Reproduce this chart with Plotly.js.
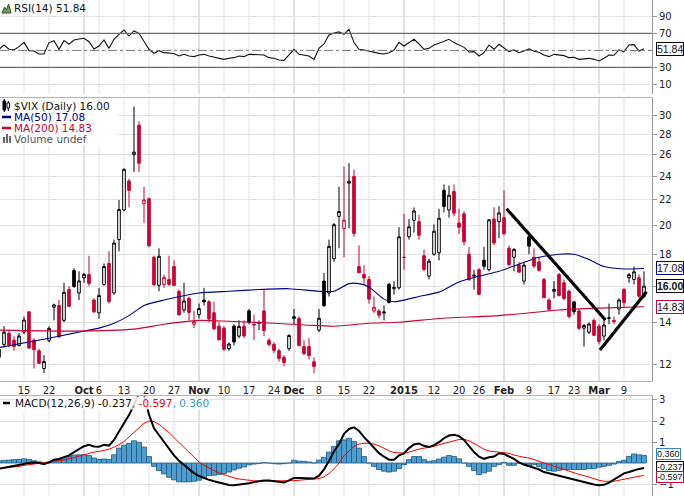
<!DOCTYPE html>
<html><head><meta charset="utf-8">
<script src="https://cdn.plot.ly/plotly-3.0.1.min.js"></script>
<style>html,body{margin:0;padding:0;background:#fff;}#chart{width:684px;height:496px;}</style>
</head><body><div id="chart"></div>
<script>
// ---------- DATA ----------
const dates = [
'2014-09-08','2014-09-09','2014-09-10','2014-09-11','2014-09-12','2014-09-15','2014-09-16','2014-09-17','2014-09-18','2014-09-19',
'2014-09-22','2014-09-23','2014-09-24','2014-09-25','2014-09-26','2014-09-29','2014-09-30','2014-10-01','2014-10-02','2014-10-03',
'2014-10-06','2014-10-07','2014-10-08','2014-10-09','2014-10-10','2014-10-13','2014-10-14','2014-10-15','2014-10-16','2014-10-17',
'2014-10-20','2014-10-21','2014-10-22','2014-10-23','2014-10-24','2014-10-27','2014-10-28','2014-10-29','2014-10-30','2014-10-31',
'2014-11-03','2014-11-04','2014-11-05','2014-11-06','2014-11-07','2014-11-10','2014-11-11','2014-11-12','2014-11-13','2014-11-14',
'2014-11-17','2014-11-18','2014-11-19','2014-11-20','2014-11-21','2014-11-24','2014-11-25','2014-11-26','2014-11-28','2014-12-01',
'2014-12-02','2014-12-03','2014-12-04','2014-12-05','2014-12-08','2014-12-09','2014-12-10','2014-12-11','2014-12-12','2014-12-15',
'2014-12-16','2014-12-17','2014-12-18','2014-12-19','2014-12-22','2014-12-23','2014-12-24','2014-12-26','2014-12-29','2014-12-30',
'2014-12-31','2015-01-02','2015-01-05','2015-01-06','2015-01-07','2015-01-08','2015-01-09','2015-01-12','2015-01-13','2015-01-14',
'2015-01-15','2015-01-16','2015-01-20','2015-01-21','2015-01-22','2015-01-23','2015-01-26','2015-01-27','2015-01-28','2015-01-29',
'2015-01-30','2015-02-02','2015-02-03','2015-02-04','2015-02-05','2015-02-06','2015-02-09','2015-02-10','2015-02-11','2015-02-12',
'2015-02-13','2015-02-17','2015-02-18','2015-02-19','2015-02-20','2015-02-23','2015-02-24','2015-02-25','2015-02-26','2015-02-27',
'2015-03-02','2015-03-03','2015-03-04','2015-03-05','2015-03-06','2015-03-09','2015-03-10','2015-03-11','2015-03-12','2015-03-13'];

const priorClose = 12.09;
const opens = [
12.30,12.90,13.45,13.10,12.85,13.50,14.55,13.10,12.60,11.80,
13.10,14.80,14.90,14.10,15.80,16.95,15.60,16.50,16.70,15.20,
14.50,16.10,17.40,15.60,19.00,21.20,23.60,26.00,29.00,21.70,
22.10,17.80,16.05,16.10,16.40,17.20,15.70,14.65,15.30,13.90,
14.40,15.20,15.10,14.50,13.80,13.70,12.70,13.80,13.30,13.80,
14.60,13.90,13.95,14.60,13.10,12.90,12.60,12.30,12.70,14.20,
14.20,12.80,12.80,12.10,13.60,16.30,15.60,17.70,20.70,19.80,
23.40,24.00,17.20,16.70,16.40,14.60,14.60,14.55,16.10,15.85,
15.90,17.80,19.20,20.40,20.30,17.90,16.60,18.00,18.10,22.80,
21.20,22.70,20.20,20.90,18.00,16.60,17.00,17.60,17.00,20.50,
20.30,20.60,18.40,17.80,17.30,16.30,19.20,17.80,17.50,16.40,
15.20,15.70,16.70,16.20,15.70,15.10,14.60,13.70,13.50,14.10,
13.80,13.30,14.20,14.10,14.70,15.80,16.50,16.40,16.50,15.40];
const highs = [
12.90,13.80,13.55,13.30,13.45,14.30,14.60,13.20,12.70,12.40,
13.80,15.00,15.20,16.20,16.00,17.10,16.90,16.80,17.90,15.30,
15.90,17.40,18.20,19.00,22.00,24.70,23.80,31.06,29.40,23.10,
22.20,17.90,18.40,16.70,17.90,17.60,15.80,16.20,15.40,14.60,
15.00,15.90,15.20,15.10,14.00,13.80,13.00,13.90,14.10,14.10,
14.70,14.40,14.10,15.80,13.20,13.00,12.70,12.40,13.40,14.70,
14.30,13.10,13.20,12.30,14.70,16.80,19.00,20.20,23.10,24.90,
25.20,24.60,18.60,17.30,16.60,15.40,14.70,14.90,16.20,16.30,
19.90,20.90,20.50,21.40,20.80,18.30,17.70,20.10,21.30,23.30,
23.20,23.30,21.30,21.10,18.50,17.00,17.10,18.50,20.50,21.40,
21.50,22.80,18.60,18.40,17.50,17.50,19.40,18.40,17.80,16.50,
15.30,16.30,16.80,16.40,15.80,15.10,14.70,13.90,14.00,14.20,
13.90,14.20,15.00,14.30,15.30,15.90,16.80,17.20,16.70,16.90];
const lows = [
12.20,12.75,12.75,12.60,12.80,13.40,12.70,11.80,12.00,11.60,
13.00,14.10,13.20,14.00,14.80,15.90,15.20,16.20,16.00,14.50,
14.20,16.00,15.00,15.50,18.20,21.10,21.40,24.40,24.40,20.20,
18.50,16.00,15.70,15.90,16.00,16.00,14.35,14.50,14.10,13.70,
14.20,14.90,14.00,13.60,13.10,12.60,12.60,12.85,13.20,13.20,
13.90,13.10,13.60,13.30,12.80,12.50,12.10,11.90,12.60,13.90,
12.80,12.40,12.20,11.60,13.50,14.80,15.40,17.50,18.40,17.80,
19.80,19.20,16.80,16.10,15.00,14.50,14.20,14.10,15.00,15.50,
15.80,17.00,19.00,19.50,19.00,16.90,16.40,17.90,17.60,21.00,
20.60,20.70,19.40,18.60,16.30,15.80,15.50,17.00,16.90,18.60,
19.10,19.30,17.20,16.90,16.80,16.10,18.00,17.10,16.90,15.30,
14.60,15.30,15.40,15.20,14.20,14.40,13.60,12.80,13.40,13.30,
12.90,13.10,13.90,13.90,14.40,14.80,16.20,16.10,15.30,15.30];
const closes = [
12.66,13.50,12.88,12.80,13.31,14.12,12.73,12.65,12.03,12.11,
13.69,14.93,13.27,15.64,14.85,15.98,16.31,16.71,16.16,14.55,
15.46,17.20,15.11,18.76,21.24,24.64,22.79,26.25,25.20,21.99,
18.57,16.08,17.87,16.53,16.11,16.04,14.39,15.15,14.52,14.03,
14.73,15.10,14.17,13.67,13.12,12.67,12.92,13.02,13.79,13.31,
13.99,13.86,13.96,13.58,12.90,12.62,12.25,12.07,13.33,14.29,
12.85,12.47,12.38,11.89,14.21,14.89,18.53,20.08,21.08,20.42,
23.57,19.44,16.81,16.49,15.25,14.80,14.37,14.50,15.06,15.92,
19.20,17.79,19.92,21.12,19.31,17.01,17.55,19.60,20.56,21.48,
22.39,20.95,19.89,18.85,16.40,16.66,15.52,17.22,20.44,18.76,
20.97,19.43,17.33,18.33,16.85,17.29,18.55,17.23,16.96,15.34,
14.69,15.80,15.45,15.29,14.30,14.56,13.69,13.84,13.91,13.34,
13.04,13.86,14.23,14.04,15.20,15.06,16.69,16.87,15.42,16.00];

const ma50Dates = ['2014-09-08','2014-09-22','2014-09-29','2014-10-06','2014-10-09','2014-10-14','2014-10-17','2014-10-23','2014-11-03','2014-11-11','2014-11-19','2014-11-28','2014-12-08','2014-12-11','2014-12-16','2014-12-18','2014-12-22','2014-12-26','2014-12-30','2015-01-07','2015-01-13','2015-01-20','2015-01-26','2015-01-30','2015-02-05','2015-02-11','2015-02-18','2015-02-23','2015-02-26','2015-03-03','2015-03-09','2015-03-13'];
const ma50Vals = [12.75,13.2,13.45,13.7,13.95,14.35,14.9,15.2,15.6,15.7,15.8,15.85,15.7,15.7,16.15,16.15,15.95,15.25,15.1,15.4,15.65,16.25,16.6,16.9,17.35,17.8,18.0,18.0,17.65,17.2,17.05,17.08];
const ma200Dates = ['2014-09-08','2014-09-29','2014-10-15','2014-10-23','2014-11-03','2014-11-11','2014-11-24','2014-12-04','2014-12-11','2014-12-22','2014-12-31','2015-01-13','2015-01-30','2015-02-18','2015-03-02','2015-03-13'];
const ma200Vals = [13.6,13.55,13.65,13.9,14.1,14.05,13.95,13.85,13.8,13.95,14.0,14.2,14.35,14.65,14.75,14.83];

const rsi = [
51.3,56.4,51.3,50.5,54.4,59.5,49.7,49.3,45.7,45.9,
59.2,61.5,51.3,61.5,57.2,62.3,63.5,64.3,60.3,51.7,
55.2,62.3,52.4,63.1,69.0,74.1,67.0,73.0,70.2,60.3,
51.3,46.5,49.7,47.3,46.5,46.3,43.4,45.3,43.4,42.6,
44.6,45.3,43.4,41.8,40.6,39.4,40.6,41.4,43.4,42.6,
45.3,44.9,45.3,44.6,41.4,40.6,38.6,38.2,44.6,51.3,
45.3,44.2,43.4,39.4,52.4,57.6,68.2,70.6,71.8,69.0,
74.9,59.2,51.3,50.5,48.9,47.7,46.5,45.7,47.3,50.5,
59.5,55.2,59.2,63.1,57.6,51.3,52.4,56.4,58.4,60.3,
63.1,59.2,56.4,53.6,48.1,48.5,43.4,47.3,56.4,51.3,
57.2,53.2,48.5,50.5,47.3,49.3,51.7,48.9,47.7,44.6,
42.6,45.3,44.6,43.8,41.4,41.8,39.4,40.2,40.6,39.4,
37.5,40.6,44.6,44.2,50.5,48.5,56.4,56.8,49.3,51.84];

const macd = [
-0.27,-0.22,-0.17,-0.13,-0.08,-0.03,0.00,0.02,0.00,-0.06,
0.03,0.16,0.19,0.28,0.36,0.52,0.66,0.80,0.87,0.79,
0.77,0.87,0.83,1.10,1.50,1.89,2.28,2.76,3.30,3.25,
2.30,1.65,1.34,1.02,0.71,0.36,0.11,-0.08,-0.30,-0.48,
-0.62,-0.72,-0.80,-0.87,-0.94,-1.00,-1.05,-1.06,-1.03,-1.02,
-0.96,-0.91,-0.87,-0.83,-0.83,-0.87,-0.90,-0.93,-0.83,-0.71,
-0.71,-0.71,-0.71,-0.74,-0.60,-0.30,0.10,0.55,0.90,1.39,
1.62,1.70,1.53,1.23,0.99,0.74,0.47,0.30,0.16,0.16,
0.36,0.46,0.71,0.88,0.93,0.82,0.76,0.85,0.99,1.18,
1.31,1.34,1.28,1.10,0.79,0.52,0.30,0.20,0.27,0.31,
0.46,0.43,0.31,0.20,0.03,-0.08,-0.14,-0.22,-0.31,-0.43,
-0.49,-0.55,-0.61,-0.68,-0.74,-0.80,-0.87,-0.93,-0.98,-1.02,
-1.06,-1.04,-0.93,-0.77,-0.61,-0.49,-0.43,-0.35,-0.28,-0.237];
const signal = [
-0.27,-0.25,-0.22,-0.19,-0.16,-0.11,-0.08,-0.05,-0.02,0.00,
0.03,0.06,0.09,0.14,0.20,0.27,0.33,0.39,0.47,0.52,
0.55,0.60,0.66,0.76,0.87,1.02,1.26,1.46,1.68,1.89,
2.00,1.97,1.84,1.65,1.45,1.21,0.98,0.72,0.48,0.25,
0.05,-0.10,-0.24,-0.36,-0.47,-0.56,-0.64,-0.71,-0.76,-0.80,
-0.83,-0.85,-0.86,-0.86,-0.85,-0.85,-0.86,-0.87,-0.86,-0.84,
-0.82,-0.80,-0.78,-0.77,-0.74,-0.66,-0.50,-0.28,0.00,0.35,
0.58,0.79,0.90,0.94,0.94,0.90,0.82,0.69,0.58,0.50,
0.47,0.47,0.52,0.60,0.66,0.71,0.74,0.79,0.87,0.93,
1.01,1.07,1.12,1.13,1.06,0.93,0.79,0.66,0.57,0.54,
0.52,0.49,0.46,0.38,0.31,0.27,0.24,0.16,0.09,0.02,
-0.08,-0.17,-0.25,-0.33,-0.39,-0.47,-0.54,-0.60,-0.68,-0.74,
-0.82,-0.87,-0.88,-0.87,-0.82,-0.77,-0.71,-0.66,-0.63,-0.597];
const hist = [
0.10,0.13,0.14,0.16,0.17,0.20,0.17,0.11,0.06,0.00,
0.05,0.13,0.16,0.24,0.31,0.38,0.39,0.39,0.36,0.24,
0.17,0.19,0.17,0.39,0.71,0.85,0.93,1.06,0.99,0.76,
0.31,-0.16,-0.36,-0.52,-0.68,-0.80,-0.90,-0.90,-0.90,-0.87,
-0.82,-0.71,-0.60,-0.58,-0.55,-0.50,-0.43,-0.33,-0.25,-0.19,
-0.09,-0.05,-0.02,0.02,0.00,-0.03,-0.05,-0.03,0.00,0.13,
0.09,0.08,0.05,0.00,0.14,0.27,0.52,0.79,1.06,1.10,
1.18,1.02,0.71,0.31,0.00,-0.16,-0.31,-0.39,-0.43,-0.39,
-0.27,-0.08,0.16,0.31,0.31,0.16,0.08,0.11,0.19,0.28,
0.36,0.31,0.20,0.00,-0.16,-0.36,-0.55,-0.47,-0.39,-0.16,
-0.08,0.03,-0.11,-0.11,0.00,-0.03,-0.16,-0.08,-0.16,-0.27,
-0.36,-0.39,-0.35,-0.31,-0.31,-0.31,-0.31,-0.31,-0.27,-0.27,
-0.20,-0.16,-0.11,-0.05,0.08,0.13,0.31,0.43,0.39,0.36];

// hand-drawn trend lines (trading-day position, price)
const trend1X = [101.5, 121.3], trend1Y = [21.3, 14.12];
const trend2X = [120.2, 129.5], trend2Y = [12.64, 15.67];

const tickDates = ['2014-09-08','2014-09-15','2014-09-22','2014-10-01','2014-10-06','2014-10-13','2014-10-20','2014-10-27','2014-11-03','2014-11-10','2014-11-17','2014-11-24','2014-12-01','2014-12-08','2014-12-15','2014-12-22','2015-01-02','2015-01-12','2015-01-20','2015-01-26','2015-02-02','2015-02-09','2015-02-17','2015-02-23','2015-03-02','2015-03-09'];
const tickText = ['8','15','22','<b>Oct</b>','6','13','20','27','<b>Nov</b>','10','17','24','<b>Dec</b>','8','15','22','<b>2015</b>','12','20','26','<b>Feb</b>','9','17','23','<b>Mar</b>','9'];
const monthStarts = ['2014-10-01','2014-11-03','2014-12-01','2015-01-02','2015-02-02','2015-03-02'];
const priceTicks = [12,14,16,18,20,22,24,26,28,30];
const priceTickText = ['12','14','','18','20','22','24','26','28','30'];   // 16 sits under the last-close tag
const rsiTicks = [10,30,70,90];
const macdTicks = [-1,1,2,3];

// ---------- BUILD ----------
const idx = dates.map((d, i) => i);
const pos = d => dates.indexOf(d);
const RED = '#cc0033', NAVY = '#000080';

const up = {x:[],o:[],h:[],l:[],c:[]}, dn = {x:[],o:[],h:[],l:[],c:[]};
closes.forEach((c, i) => {
  const prev = i === 0 ? priorClose : closes[i-1];
  const g = c >= prev ? up : dn;
  g.x.push(i); g.o.push(opens[i]); g.h.push(highs[i]); g.l.push(lows[i]); g.c.push(c);
});
function candle(g, color) {
  return {type:'candlestick', x:g.x, open:g.o, high:g.h, low:g.l, close:g.c,
    xaxis:'x2', yaxis:'y2', whiskerwidth:0, line:{width:1},
    increasing:{line:{color:color, width:1}, fillcolor:'#ffffff'},
    decreasing:{line:{color:color, width:1}, fillcolor:color},
    showlegend:false, hoverinfo:'skip'};
}

const traces = [
  {type:'scatter', mode:'lines', x:idx, y:rsi, xaxis:'x', yaxis:'y', line:{color:'#111', width:1.1}, hoverinfo:'skip'},
  candle(up, '#000000'),
  candle(dn, RED),
  {type:'scatter', mode:'lines', x:ma50Dates.map(pos), y:ma50Vals, xaxis:'x2', yaxis:'y2', line:{color:NAVY, width:1.1, shape:'spline', smoothing:0.6}, hoverinfo:'skip'},
  {type:'scatter', mode:'lines', x:ma200Dates.map(pos), y:ma200Vals, xaxis:'x2', yaxis:'y2', line:{color:RED, width:1.1, shape:'spline', smoothing:0.6}, hoverinfo:'skip'},
  {type:'scatter', mode:'lines', x:trend1X, y:trend1Y, xaxis:'x2', yaxis:'y2', line:{color:'#000', width:3.2}, hoverinfo:'skip'},
  {type:'scatter', mode:'lines', x:trend2X, y:trend2Y, xaxis:'x2', yaxis:'y2', line:{color:'#000', width:3.2}, hoverinfo:'skip'},
  {type:'bar', x:idx, y:hist, xaxis:'x3', yaxis:'y3', marker:{color:'#4e9dcc', line:{color:'#1d5a86', width:0.8}}, hoverinfo:'skip'},
  {type:'scatter', mode:'lines', x:idx, y:signal, xaxis:'x3', yaxis:'y3', line:{color:'#ff0000', width:1}, hoverinfo:'skip'},
  {type:'scatter', mode:'lines', x:idx, y:macd, xaxis:'x3', yaxis:'y3', line:{color:'#000', width:2}, hoverinfo:'skip'}
];

// tag pointers just right of the axis
const tagX = 131.4;
function pointer(xa, yax, ys, colors) {
  return {type:'scatter', mode:'markers', x:ys.map(() => tagX), y:ys, xaxis:xa, yaxis:yax, cliponaxis:false,
    marker:{symbol:'triangle-left', size:10, color:'#fff', line:{color:colors, width:1}}, hoverinfo:'skip'};
}
const lastClose = closes[closes.length-1], lastMa50 = ma50Vals[ma50Vals.length-1], lastMa200 = ma200Vals[ma200Vals.length-1];
const lastRsi = rsi[rsi.length-1], lastMacd = macd[macd.length-1], lastSig = signal[signal.length-1], lastHist = hist[hist.length-1];
traces.push(pointer('x', 'y', [lastRsi], ['#000']));
traces.push(pointer('x2', 'y2', [lastMa50, lastClose, lastMa200], [NAVY, '#000', RED]));
traces.push(pointer('x3', 'y3', [lastHist, lastMacd, lastSig], ['#3a7fbf', '#000', RED]));

const X_RANGE = [0.2, 130.6];
const FONT = 'DejaVu Sans, Verdana, sans-serif';
function xax(anchor, labels, extra) {
  return Object.assign({anchor, range:X_RANGE, autorange:false, tickmode:'array', tickvals:tickDates.map(pos), ticktext:tickText,
    tickangle:0, showticklabels:labels, ticks:'', showgrid:false, zeroline:false, fixedrange:true,
    rangeslider:{visible:false}, tickfont:{family:FONT, size:10, color:'#222'}}, extra || {});
}
function yax(anchor, domain, extra) {
  return Object.assign({anchor, domain, side:'right', ticks:'outside', ticklen:4, tickcolor:'#999',
    showline:true, linecolor:'#999', gridcolor:'#e3e3e3', zeroline:false, fixedrange:true, autorange:false,
    tickfont:{family:FONT, size:10, color:'#222'}}, extra);
}

const W = 652, H = 496;
const px = v => v / W, py = v => 1 - v / H;

const shapes = [];
// vertical grid: weekly light, month starts darker
tickDates.forEach(d => {
  const isMonth = monthStarts.indexOf(d) >= 0;
  [['x','y domain'],['x2','y2 domain'],['x3','y3 domain']].forEach(r => shapes.push({type:'line', layer:'below', xref:r[0], yref:r[1],
    x0:pos(d), x1:pos(d), y0:0, y1:1, line:{color: isMonth ? '#c4c4c4' : '#e3e3e3', width:1}}));
});
// RSI reference lines
shapes.push({type:'line', layer:'above', xref:'x domain', yref:'y', x0:0, x1:1, y0:70, y1:70, line:{color:'#6e6e6e', width:1.3}});
shapes.push({type:'line', layer:'above', xref:'x domain', yref:'y', x0:0, x1:1, y0:30, y1:30, line:{color:'#6e6e6e', width:1.3}});
shapes.push({type:'line', layer:'above', xref:'x domain', yref:'y', x0:0, x1:1, y0:50, y1:50, line:{color:'#777', width:1, dash:'dashdot'}});
// legend backdrop
shapes.push({type:'rect', layer:'above', xref:'paper', yref:'paper', x0:0, x1:px(118), y0:py(145), y1:py(100), fillcolor:'rgba(255,255,255,0.85)', line:{width:0}});
// legend icons
shapes.push({type:'path', xref:'paper', yref:'paper', path:`M${px(2)},${py(13)} L${px(4.5)},${py(7)} L${px(6.5)},${py(10)} L${px(8.5)},${py(4)} L${px(11)},${py(13)} Z`, fillcolor:'#6f9f55', line:{color:'#2f4f22', width:1}});
shapes.push({type:'line', xref:'paper', yref:'paper', x0:px(4.3), x1:px(4.3), y0:py(99), y1:py(112), line:{color:'#000', width:1}});
shapes.push({type:'rect', xref:'paper', yref:'paper', x0:px(3), x1:px(5.6), y0:py(101), y1:py(110), fillcolor:'#000', line:{color:'#000', width:1}});
shapes.push({type:'line', xref:'paper', yref:'paper', x0:px(8.3), x1:px(8.3), y0:py(101), y1:py(111), line:{color:'#000', width:1}});
shapes.push({type:'rect', xref:'paper', yref:'paper', x0:px(7), x1:px(9.6), y0:py(103), y1:py(108), fillcolor:'#fff', line:{color:'#000', width:1}});
shapes.push({type:'line', xref:'paper', yref:'paper', x0:px(2), x1:px(11), y0:py(117), y1:py(117), line:{color:NAVY, width:2.5}});
shapes.push({type:'line', xref:'paper', yref:'paper', x0:px(2), x1:px(11), y0:py(128), y1:py(128), line:{color:RED, width:2.5}});
[[3,137],[6,134],[9,136]].forEach(b => shapes.push({type:'rect', xref:'paper', yref:'paper', x0:px(b[0]), x1:px(b[0]+2), y0:py(b[1]), y1:py(143), fillcolor:'#666', line:{width:0}}));
shapes.push({type:'line', xref:'paper', yref:'paper', x0:px(3), x1:px(10), y0:py(403), y1:py(403), line:{color:'#000', width:2.5}});

const lab = (x, y, text, color, bg) => ({xref:'paper', yref:'paper', x:px(x), y:py(y), xanchor:'left', yanchor:'middle', text, showarrow:false,
  font:{family:FONT, size:10.5, color:color || '#111'}, bgcolor:bg || 'rgba(0,0,0,0)', borderpad:0});
const tag = (yref, y, text, border, size, bold, shift) => ({xref:'paper', yref, x:px(656), y, xanchor:'left', yanchor:'middle', showarrow:false,
  yshift: shift || 0,
  text: bold ? '<b>' + text + '</b>' : text, font:{family:'Liberation Sans, Arial, sans-serif', size:size, color:'#111'},
  bgcolor:'#fff', bordercolor:border, borderwidth:1, borderpad:0});

const annotations = [
  lab(13, 8, 'RSI(14) ' + lastRsi.toFixed(2), '#111', 'rgba(255,255,255,0.85)'),
  lab(13, 106, '$VIX (Daily) ' + lastClose.toFixed(2)),
  lab(13, 117, 'MA(50) ' + lastMa50.toFixed(2), NAVY),
  lab(13, 128, 'MA(200) ' + lastMa200.toFixed(2), RED),
  lab(13, 139, 'Volume undef', '#555'),
  lab(14, 403, 'MACD(12,26,9) ' + lastMacd.toFixed(3) + '<span style="color:#ff0000">, ' + lastSig.toFixed(3) + '</span><span style="color:#3399cc">, ' + lastHist.toFixed(3) + '</span>', '#111', 'rgba(255,255,255,0.85)'),
  tag('y', lastRsi, lastRsi.toFixed(2), '#000', 10.5),
  tag('y2', Math.log10(lastMa50), lastMa50.toFixed(2), NAVY, 10.5),
  tag('y2', Math.log10(lastClose), lastClose.toFixed(2), '#000', 10.5, true),
  tag('y2', Math.log10(lastMa200), lastMa200.toFixed(2), RED, 10.5),
  tag('y3', lastHist, lastHist.toFixed(3), '#3a7fbf', 9, false, 1),
  tag('y3', lastMacd, lastMacd.toFixed(3), '#000', 9, false, 1),
  tag('y3', lastSig, lastSig.toFixed(3), RED, 9, false, -1)
];

const layout = {
  width:684, height:496, margin:{l:0, r:32, t:0, b:0},
  paper_bgcolor:'#fff', plot_bgcolor:'#fff', showlegend:false, hovermode:false,
  font:{family:FONT, size:10, color:'#222'},
  boxgap:0.25, bargap:0,
  xaxis: xax('y', false),
  xaxis2: xax('y2', true, {showline:true, mirror:true, linecolor:'#b4b4b4'}),
  xaxis3: xax('y3', false, {showline:true, mirror:true, linecolor:'#b4b4b4'}),
  yaxis: yax('x', [1 - 94/H, 1], {range:[-1.6, 109.6], tickmode:'array', tickvals:rsiTicks}),
  yaxis2: yax('x2', [1 - 381/H, 1 - 98/H], {type:'log', range:[Math.log10(11.27), Math.log10(32.06)], tickmode:'array', tickvals:priceTicks, ticktext:priceTickText}),
  yaxis3: yax('x3', [0, 1 - 396/H], {range:[-1.57, 3.19], tickmode:'array', tickvals:macdTicks}),
  shapes, annotations
};

Plotly.newPlot('chart', traces, layout, {staticPlot:true, displayModeBar:false});
</script>
</body></html>
